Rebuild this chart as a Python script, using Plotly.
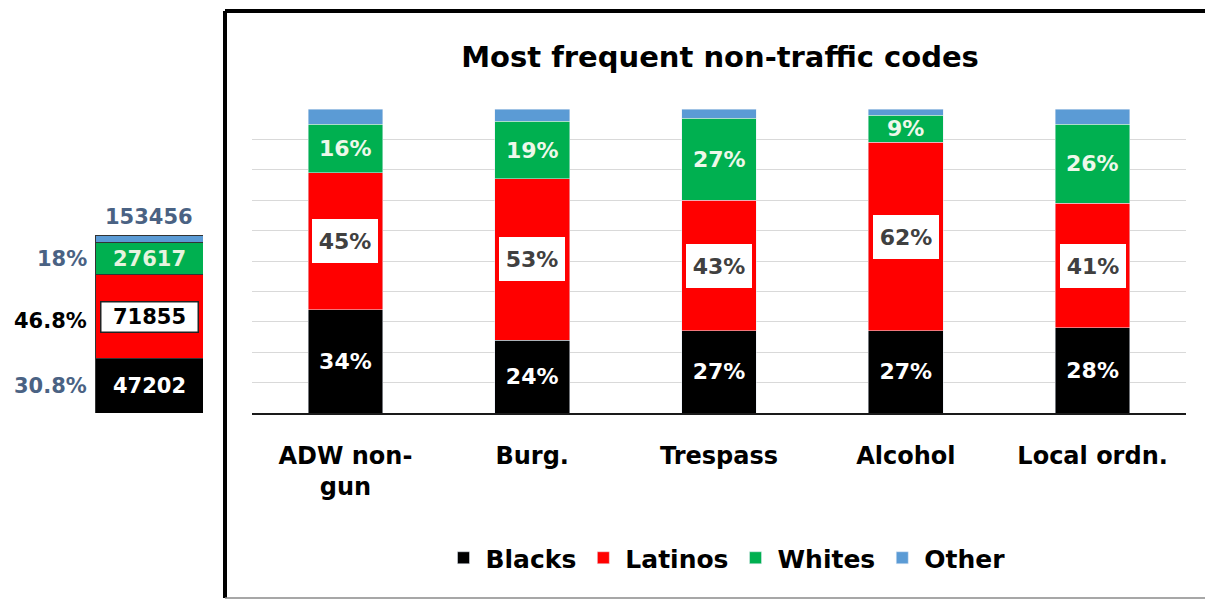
import plotly.graph_objects as go

# Main chart: share of each group among the most frequent non-traffic codes (%)
codes = ["ADW non-<br>gun", "Burg.", "Trespass", "Alcohol", "Local ordn."]
blacks = [34, 24, 27, 27, 28]
latinos = [45, 53, 43, 62, 41]
whites = [16, 19, 27, 9, 26]
other = [100 - b - l - w for b, l, w in zip(blacks, latinos, whites)]

# Side column: all codes combined (counts)
all_blacks = 47202
all_latinos = 71855
all_whites = 27617
all_total = 153456
all_other = all_total - all_blacks - all_latinos - all_whites
all_pct_blacks = "30.8%"
all_pct_latinos = "46.8%"
all_pct_whites = "18%"

C_BLACK = "#000000"
C_RED = "#ff0000"
C_GREEN = "#00b050"
C_BLUE = "#5b9bd5"
C_SLATE = "#4a6283"
FONT = "DejaVu Sans"

W, H = 1205, 600


def px(x):
    return x / W


def py(y):
    return 1 - y / H


xpos = list(range(len(codes)))
seg_font = dict(family=FONT, size=22, weight="bold")

fig = go.Figure()

fig.add_trace(go.Bar(
    x=xpos, y=blacks, name="Blacks", marker_color=C_BLACK,
    text=[f"{v}%" for v in blacks], textposition="inside",
    insidetextanchor="middle", textangle=0,
    textfont=dict(seg_font, color="#ffffff"),
    width=0.4,
))
fig.add_trace(go.Bar(
    x=xpos, y=latinos, name="Latinos", marker_color=C_RED,
    textposition="none", width=0.4,
))
fig.add_trace(go.Bar(
    x=xpos, y=whites, name="Whites", marker_color=C_GREEN,
    textposition="none", width=0.4,
))
fig.add_trace(go.Bar(
    x=xpos, y=other, name="Other", marker_color=C_BLUE,
    textposition="none", width=0.4,
))

# Boxed labels in the middle of the Latino segments, plain labels on the White ones
for i, (b, l, w) in enumerate(zip(blacks, latinos, whites)):
    fig.add_annotation(
        x=i, y=b + l / 2, xref="x", yref="y", text=f"{l}%",
        showarrow=False, bgcolor="#ffffff", borderpad=3, borderwidth=0,
        width=60, height=38,
        font=dict(seg_font, color="#404040"),
    )
    fig.add_annotation(
        x=i, y=b + l + w / 2, xref="x", yref="y", text=f"{w}%",
        showarrow=False, font=dict(seg_font, color="#eef8ea"),
    )

# Side column with totals
mini_kw = dict(x=[0], xaxis="x2", yaxis="y2", width=1, showlegend=False,
               marker_line=dict(color="#333333", width=1), textposition="none")
fig.add_trace(go.Bar(y=[all_blacks], marker_color=C_BLACK, **mini_kw))
fig.add_trace(go.Bar(y=[all_latinos], marker_color=C_RED, **mini_kw))
fig.add_trace(go.Bar(y=[all_whites], marker_color=C_GREEN, **mini_kw))
fig.add_trace(go.Bar(y=[all_other], marker_color=C_BLUE, **mini_kw))

mini_font = dict(family=FONT, size=21, weight="bold")
mid_b = all_blacks / 2
mid_l = all_blacks + all_latinos / 2
mid_w = all_blacks + all_latinos + all_whites / 2

fig.add_annotation(x=0, y=mid_b, xref="x2", yref="y2", text=str(all_blacks),
                   showarrow=False, font=dict(mini_font, color="#ffffff"))
fig.add_annotation(x=0, y=mid_l, xref="x2", yref="y2", text=str(all_latinos),
                   showarrow=False, bgcolor="#ffffff", bordercolor="#222222",
                   borderwidth=1.5, borderpad=1, width=94, height=27,
                   font=dict(mini_font, color="#000000"))
fig.add_annotation(x=0, y=mid_w, xref="x2", yref="y2", text=str(all_whites),
                   showarrow=False, font=dict(mini_font, color="#e6f4df"))
fig.add_annotation(x=0, y=all_total, xref="x2", yref="y2", text=str(all_total),
                   showarrow=False, yanchor="bottom", yshift=4,
                   font=dict(mini_font, color=C_SLATE))
fig.add_annotation(x=-0.5, y=mid_b, xref="x2", yref="y2", text=all_pct_blacks,
                   showarrow=False, xanchor="right", xshift=-6,
                   font=dict(mini_font, color=C_SLATE))
fig.add_annotation(x=-0.5, y=mid_l, xref="x2", yref="y2", text=all_pct_latinos,
                   showarrow=False, xanchor="right", xshift=-6, yshift=-4,
                   font=dict(mini_font, color="#000000"))
fig.add_annotation(x=-0.5, y=mid_w, xref="x2", yref="y2", text=all_pct_whites,
                   showarrow=False, xanchor="right", xshift=-6,
                   font=dict(mini_font, color=C_SLATE))

# Frame around the main chart
frame = [
    dict(x0=225, y0=11, x1=1210, y1=11, color="#000000", width=4),
    dict(x0=225, y0=11, x1=225, y1=598, color="#000000", width=4),
    dict(x0=225, y0=598, x1=1210, y1=598, color="#8a8a8a", width=1.5),
]
for s in frame:
    fig.add_shape(type="line", xref="paper", yref="paper",
                  x0=px(s["x0"]), y0=py(s["y0"]), x1=px(s["x1"]), y1=py(s["y1"]),
                  line=dict(color=s["color"], width=s["width"]))

fig.update_layout(
    width=W, height=H, autosize=False,
    margin=dict(l=0, r=0, t=0, b=0),
    paper_bgcolor="#ffffff", plot_bgcolor="#ffffff",
    barmode="stack",
    uniformtext=dict(minsize=22, mode="show"),
    title=dict(text="Most frequent non-traffic codes", x=px(720), xanchor="center",
               y=py(57), yanchor="middle",
               font=dict(family=FONT, size=29, color="#000000", weight="bold")),
    xaxis=dict(domain=[px(252), px(1186)], range=[-0.5, 4.5],
               tickvals=xpos, ticktext=codes, showgrid=False, zeroline=False,
               showline=True, linecolor="#1a1a1a", linewidth=2,
               ticks="outside", ticklen=20, tickcolor="rgba(0,0,0,0)",
               tickfont=dict(family=FONT, size=24, color="#000000", weight="bold"),
               fixedrange=True),
    yaxis=dict(domain=[py(413), py(109)], range=[0, 100], dtick=10,
               showticklabels=False, showgrid=True, gridcolor="#d9d9d9",
               gridwidth=1, zeroline=False, showline=False, fixedrange=True),
    xaxis2=dict(domain=[px(95), px(203)], range=[-0.5, 0.5], anchor="y2",
                visible=False, fixedrange=True),
    yaxis2=dict(domain=[py(413), py(235)], range=[0, all_total], anchor="x2",
                visible=False, fixedrange=True),
    legend=dict(orientation="h", x=px(726), xanchor="center", y=py(558),
                yanchor="middle", traceorder="normal", itemwidth=34,
                font=dict(family=FONT, size=25, color="#000000", weight="bold"),
                bgcolor="rgba(0,0,0,0)"),
    showlegend=True,
)

fig.write_html("out.html")
